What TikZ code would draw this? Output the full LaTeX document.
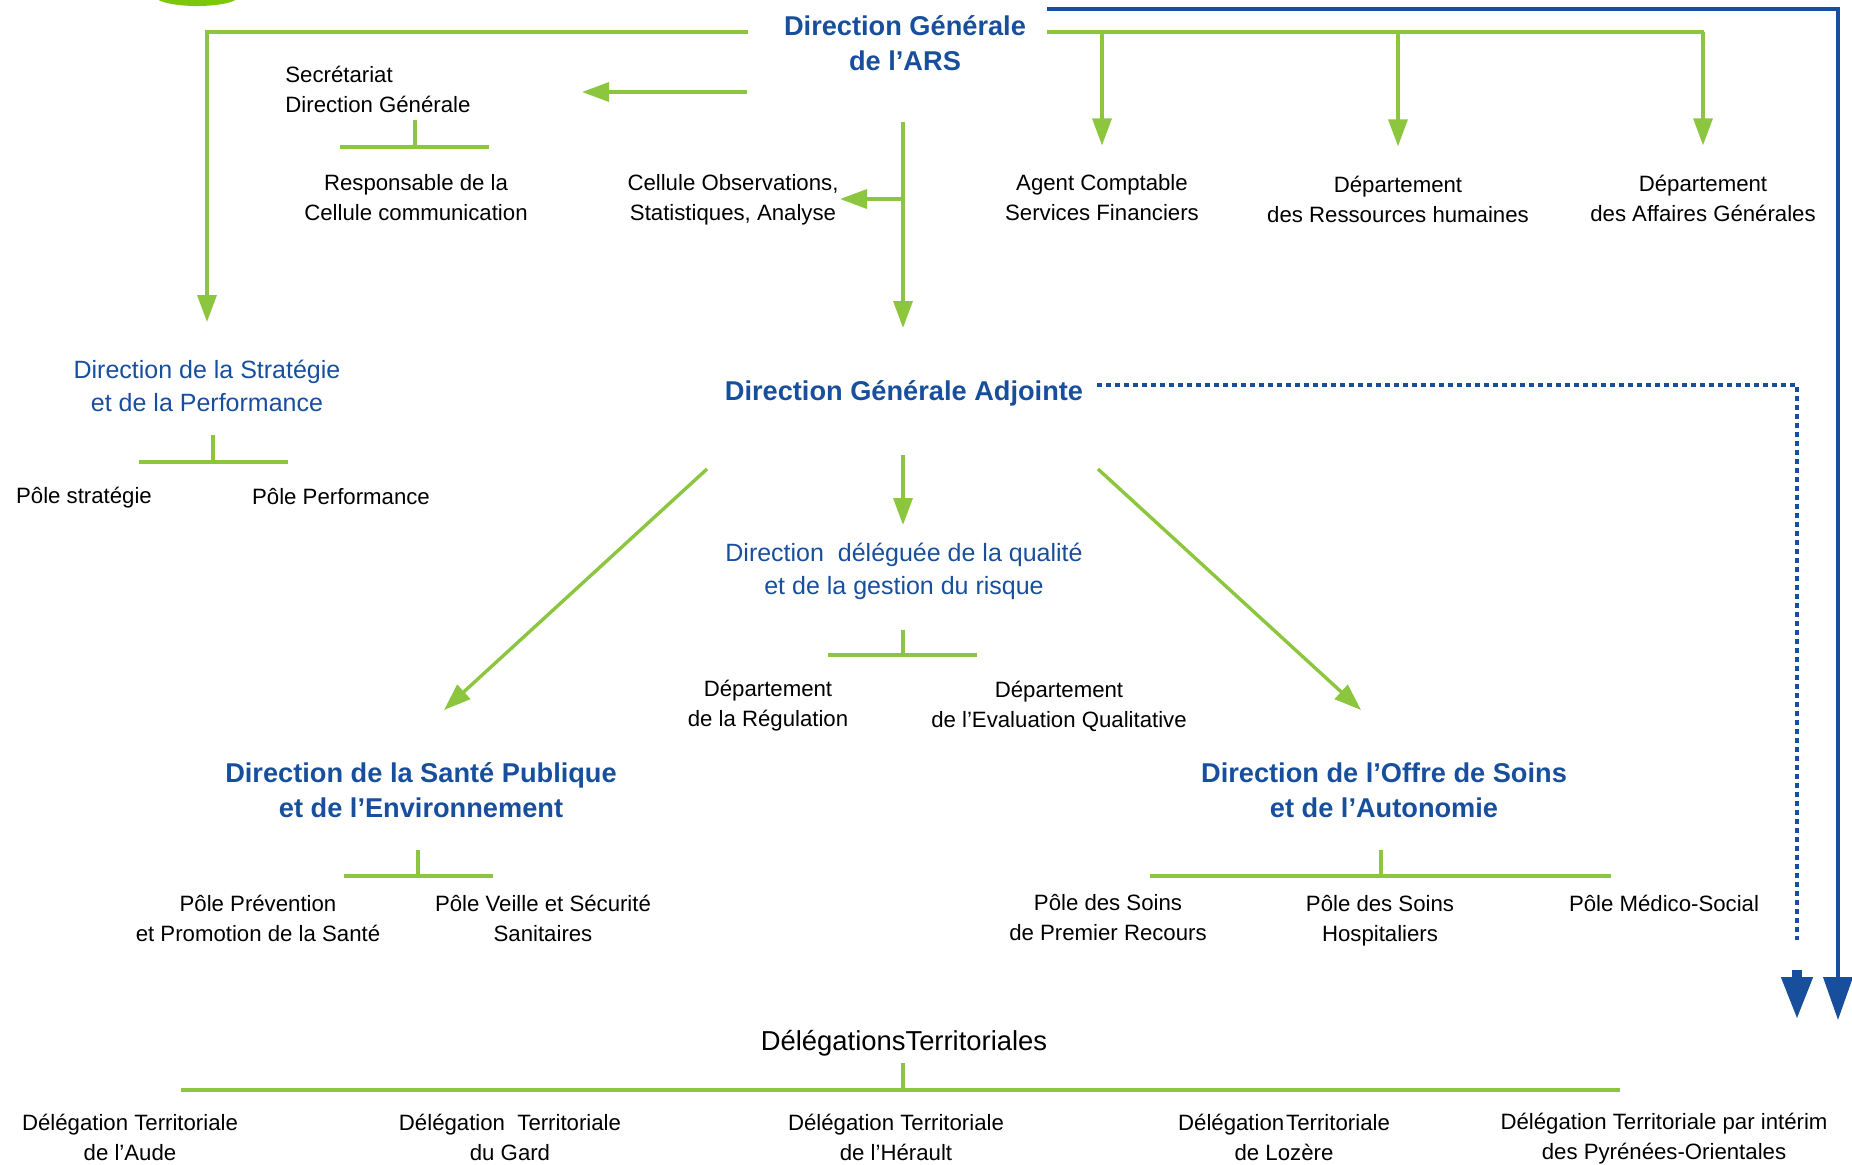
\documentclass[tikz,border=0pt]{standalone}
\usepackage{fontspec}
\setmainfont{Liberation Sans}
\usetikzlibrary{arrows.meta}
\definecolor{arsgreen}{HTML}{8CC63F}
\definecolor{arsblue}{HTML}{184F9D}
\definecolor{logogreen}{HTML}{7CC70A}
\tikzset{
  lbl/.style={inner sep=0pt, align=center, font=\fontsize{11.1}{15}\selectfont},
  dirb/.style={lbl, text=arsblue, font=\bfseries\fontsize{13.6}{17.5}\selectfont},
  dirn/.style={lbl, text=arsblue, font=\fontsize{12.5}{16.5}\selectfont},
  gline/.style={draw=arsgreen, line width=1.7pt},
  garr/.style={gline, -{Triangle[length=13.5pt,width=9.5pt]}},
  bline/.style={draw=arsblue, line width=2pt},
  barr/.style={-{Triangle[length=21.5pt,width=14.5pt]}},
}
\begin{document}
\begin{tikzpicture}[x=0.5pt,y=-0.5pt]
  \useasboundingbox (0,0) rectangle (1852,1164);
  \fill[logogreen] (197,-4) ellipse [x radius=21pt, y radius=5pt];
  % direction generale
  \node[dirb] (dg) at (905,43) {Direction Générale\\de l’ARS};
  \node[lbl, align=left, anchor=west] (sec) at (285,89) {Secrétariat\\Direction Générale};
  \node[lbl] (resp) at (416,198) {Responsable de la\\Cellule communication};
  \node[lbl] (cell) at (733,200) {Cellule Observations,\\Statistiques, Analyse};
  \node[lbl] (agent) at (1102,198) {Agent Comptable\\Services Financiers};
  \node[lbl] (drh) at (1398,199) {Département\\des Ressources humaines};
  \node[lbl] (dag) at (1703,198) {Département\\des Affaires Générales};
  \node[dirn] (strat) at (207,386) {Direction de la Stratégie\\et de la Performance};
  \node[lbl] (pstrat) at (84,498) {Pôle stratégie};
  \node[lbl] (pperf) at (341,497) {Pôle Performance};
  % adjointe
  \node[dirb] (dga) at (904,393) {Direction Générale Adjointe};
  \node[dirn] (ddq) at (904,571) {Direction\ \ déléguée de la\ qualité\\et de la gestion du risque};
  \node[lbl] (reg) at (768,706) {Département\\de la Régulation};
  \node[lbl] (eval) at (1059,706) {Département\\de l’Evaluation Qualitative};
  \node[dirb] (dsp) at (421,790) {Direction de la Santé Publique\\et de l’Environnement};
  \node[lbl] (prev) at (258,918) {Pôle Prévention\\et Promotion de la Santé};
  \node[lbl] (veille) at (543,918) {Pôle Veille et Sécurité\\Sanitaires};
  \node[dirb] (dos) at (1384,790) {Direction de l’Offre de Soins\\et de l’Autonomie};
  \node[lbl] (psp) at (1108,918) {Pôle des Soins\\de Premier Recours};
  \node[lbl] (psh) at (1380,921) {Pôle des Soins\\Hospitaliers};
  \node[lbl] (pms) at (1664,903) {Pôle Médico-Social};
  % delegations
  \node[lbl, font=\fontsize{13.7}{17}\selectfont] (dt) at (904,1043) {DélégationsTerritoriales};
  \node[lbl] (aude) at (130,1137) {Délégation Territoriale\\de l’Aude};
  \node[lbl] (gard) at (510,1137) {Délégation\ \ Territoriale\\du Gard};
  \node[lbl] (herault) at (896,1137) {Délégation Territoriale\\de l’Hérault};
  \node[lbl] (lozere) at (1284,1137) {Délégation\kern1pt Territoriale\\de Lozère};
  \node[lbl] (po) at (1664,1139) {Délégation Territoriale par intérim\\des Pyrénées-Orientales};

  \coordinate (dgW) at (748,32);
  \coordinate (dgE) at (1047,32);
  \coordinate (dgB) at (1047,9);
  \coordinate (dgS) at (747,92);
  \coordinate (dgD) at (903,122);
  \coordinate (dgC) at (903,199);
  \coordinate (stratin) at (207,322);
  \coordinate (secin) at (582,92);
  \coordinate (dgain) at (903,328);
  \coordinate (cellin) at (840,199);
  \coordinate (busend) at (1704,32);
  \coordinate (blueend) at (1838,1020);
  \coordinate (dgaE) at (1097,385);
  \coordinate (dashend) at (1797,940);
  \coordinate (stemtop) at (1797,970);
  \coordinate (stemend) at (1797,1020);
  \coordinate (dgaS) at (903,455);
  \coordinate (ddqin) at (903,525);
  \coordinate (dgaL) at (707,469);
  \coordinate (dspin) at (444,710);
  \coordinate (dgaR) at (1098,469);
  \coordinate (dosin) at (1361,710);
  \coordinate (secT) at (415,120);
  \coordinate (stratT) at (213,435);
  \coordinate (ddqT) at (903,630);
  \coordinate (dspT) at (418,850);
  \coordinate (dosT) at (1381,850);
  \coordinate (dtT) at (903,1063);

  \draw[garr] (dgW) -| (stratin);
  \draw[garr] (dgS) -- (secin);
  \draw[garr] (dgD) -- (dgain);
  \draw[garr] (dgC) -- (cellin);
  \draw[gline] (dgE) -- (busend);
  \foreach \n in {agent,drh,dag}
    \draw[garr] (\n.north |- dgE) -- ([yshift=14.5pt]\n.north);
  \draw[bline, barr] (dgB) -| (blueend);
  \draw[bline, line width=1.6pt, dash pattern=on 2.6pt off 1.9pt] (dgaE) -| (dashend);
  \draw[draw=arsblue, line width=5pt, barr] (stemtop) -- (stemend);
  \draw[garr] (dgaS) -- (ddqin);
  \draw[garr] (dgaL) -- (dspin);
  \draw[garr] (dgaR) -- (dosin);

  \draw[gline] (secT) -- ++(0,27) ++(-75,0) -- ++(149,0);
  \draw[gline] (stratT) -- ++(0,27) ++(-74,0) -- ++(149,0);
  \draw[gline] (ddqT) -- ++(0,25) ++(-75,0) -- ++(149,0);
  \draw[gline] (dspT) -- ++(0,26) ++(-74,0) -- ++(149,0);
  \draw[gline] (dosT) -- ++(0,26) ++(-231,0) -- ++(461,0);
  \draw[gline] (dtT) -- ++(0,27) ++(-722,0) -- ++(1439,0);
\end{tikzpicture}
\end{document}
